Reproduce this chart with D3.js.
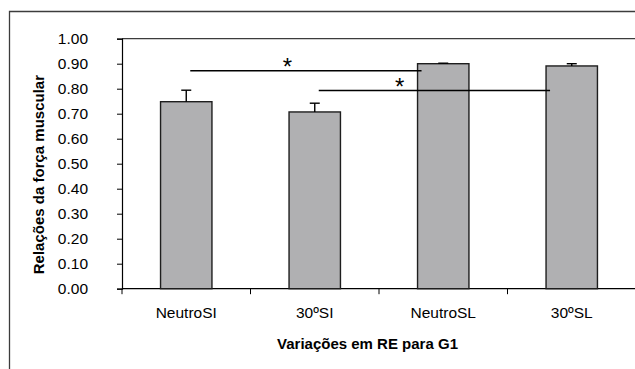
<!DOCTYPE html>
<html>
<head>
<meta charset="utf-8">
<script src="https://cdn.jsdelivr.net/npm/d3@7"></script>
<style>
  html, body { margin: 0; padding: 0; background: #fff; }
  svg { display: block; font-family: "Liberation Sans", Arial, sans-serif; }
</style>
</head>
<body>
<svg id="chart" width="635" height="369"></svg>
<script>
// ---- data ----
const categories = ["NeutroSI", "30ºSI", "NeutroSL", "30ºSL"];
const values = [0.748, 0.707, 0.900, 0.891];
const errors = [0.046, 0.035, 0.002, 0.009];
const yTicks = [0.0, 0.1, 0.2, 0.3, 0.4, 0.5, 0.6, 0.7, 0.8, 0.9, 1.0];
const bracketFrom = ["NeutroSI", "30ºSI"];
const bracketTo = ["NeutroSL", "30ºSL"];
const bracketLevel = [0.872, 0.793];
const bracketLabel = ["*", "*"];
const xTitle = "Variações em RE para G1";
const yTitle = "Relações da força muscular";

// ---- layout ----
const svg = d3.select("#chart");
const mLeft = 122, mRight = 636, mTop = 38.7, mBottom = 288.7;

const x = d3.scaleBand().domain(categories).range([mLeft, mRight])
  .paddingInner(0.6).paddingOuter(0.3);
const y = d3.scaleLinear().domain([0, 1]).range([mBottom, mTop]);

// outer chart border (clipped at right/bottom like the reference)
svg.append("path")
  .attr("d", `M9.5,${369 + 5}V11.5H${635 + 5}`)
  .attr("fill", "none").attr("stroke", "#3c3c3c").attr("stroke-width", 1.3);

// plot area top border
svg.append("line")
  .attr("x1", mLeft).attr("x2", 640)
  .attr("y1", y(1)).attr("y2", y(1))
  .attr("stroke", "#3c3c3c").attr("stroke-width", 1.2);

// y axis
const yAxis = d3.axisLeft(y).tickValues(yTicks).tickFormat(d3.format(".2f"))
  .tickSize(5).tickPadding(29);
const gy = svg.append("g").attr("transform", `translate(${mLeft},0)`).call(yAxis);
gy.select(".domain").attr("stroke", "#000").attr("stroke-width", 1.2);
gy.selectAll(".tick line").attr("stroke", "#000");
gy.selectAll(".tick text")
  .attr("font-size", 15.5).attr("fill", "#000")
  .attr("font-family", "Liberation Sans, Arial, sans-serif");

// x axis line
svg.append("line")
  .attr("x1", mLeft).attr("x2", 640)
  .attr("y1", mBottom).attr("y2", mBottom)
  .attr("stroke", "#000").attr("stroke-width", 1.2);

// category boundary ticks
const step = x.step();
const bounds = d3.range(categories.length + 1).map(i => mLeft + i * step);
svg.selectAll(".ctick").data(bounds).enter().append("line")
  .attr("x1", d => d).attr("x2", d => d)
  .attr("y1", mBottom).attr("y2", mBottom + 5.5)
  .attr("stroke", "#000").attr("stroke-width", 1);

// category labels
svg.selectAll(".clab").data(categories).enter().append("text")
  .attr("x", d => x(d) + x.bandwidth() / 2)
  .attr("y", 318)
  .attr("text-anchor", "middle")
  .attr("font-size", 15.5)
  .attr("fill", "#000")
  .text(d => d);

// bars
svg.selectAll(".bar").data(categories).enter().append("rect")
  .attr("x", d => x(d))
  .attr("y", (d, i) => y(values[i]))
  .attr("width", x.bandwidth())
  .attr("height", (d, i) => mBottom - y(values[i]))
  .attr("fill", "#b0b0b2")
  .attr("stroke", "#1e1e1e").attr("stroke-width", 1.4);

// error bars (upper only)
const eb = svg.selectAll(".eb").data(categories).enter().append("g");
eb.append("line")
  .attr("x1", d => x(d) + x.bandwidth() / 2)
  .attr("x2", d => x(d) + x.bandwidth() / 2)
  .attr("y1", (d, i) => y(values[i]))
  .attr("y2", (d, i) => y(values[i] + errors[i]))
  .attr("stroke", "#000").attr("stroke-width", 1.4);
eb.append("line")
  .attr("x1", d => x(d) + x.bandwidth() / 2 - 5)
  .attr("x2", d => x(d) + x.bandwidth() / 2 + 5)
  .attr("y1", (d, i) => y(values[i] + errors[i]))
  .attr("y2", (d, i) => y(values[i] + errors[i]))
  .attr("stroke", "#000").attr("stroke-width", 1.4);

// significance lines
const asteriskFrac = [0.42, 0.35];
bracketFrom.forEach((a, i) => {
  const x1 = x(a) + x.bandwidth() / 2 + 4;
  const x2 = x(bracketTo[i]) + 4;
  const yy = y(bracketLevel[i]);
  svg.append("line")
    .attr("x1", x1).attr("x2", x2)
    .attr("y1", yy).attr("y2", yy)
    .attr("stroke", "#000").attr("stroke-width", 1.5);
  svg.append("text")
    .attr("x", x1 + (x2 - x1) * asteriskFrac[i])
    .attr("y", yy - 9 + 13.5)
    .attr("text-anchor", "middle")
    .attr("font-size", 24)
    .attr("fill", "#000")
    .text(bracketLabel[i]);
});

// axis titles
svg.append("text")
  .attr("x", 367.5).attr("y", 348.5)
  .attr("text-anchor", "middle")
  .attr("font-size", 15).attr("font-weight", "bold")
  .attr("fill", "#000")
  .text(xTitle);

svg.append("text")
  .attr("transform", `translate(43.5,${174.6}) rotate(-90)`)
  .attr("text-anchor", "middle")
  .attr("font-size", 15).attr("font-weight", "bold")
  .attr("fill", "#000")
  .text(yTitle);
</script>
</body>
</html>
